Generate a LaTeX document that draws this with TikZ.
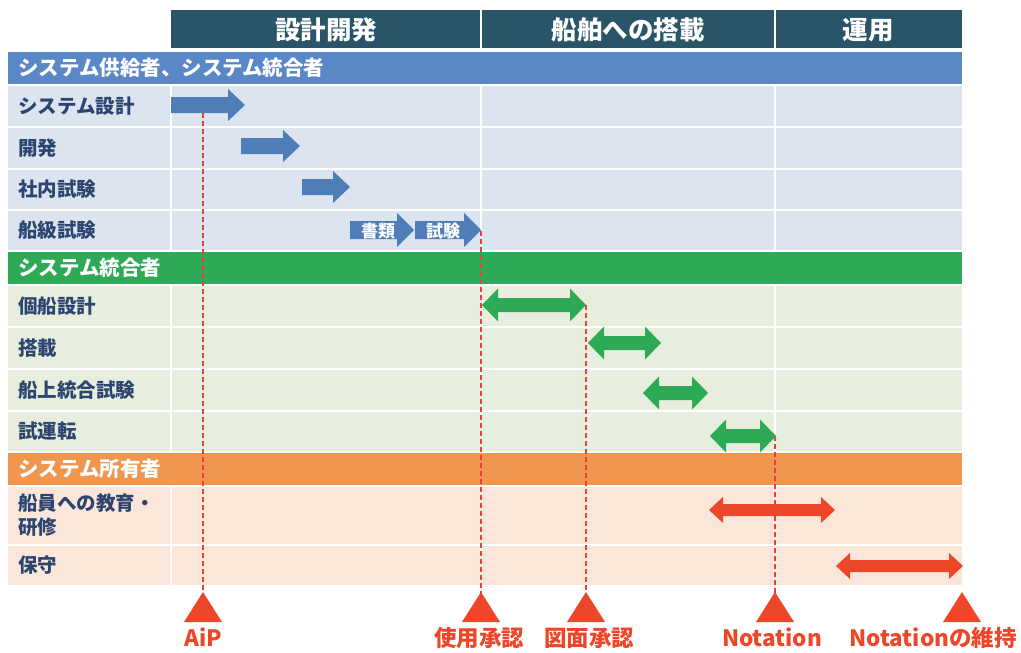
\documentclass[tikz,border=0pt]{standalone}
\usepackage{fontspec}
\setmainfont{Noto Sans CJK JP}
\definecolor{hdr}{HTML}{2A5467}
\definecolor{bandb}{HTML}{5A87C6}
\definecolor{rowb}{HTML}{DCE4EF}
\definecolor{bandg}{HTML}{2DAA55}
\definecolor{rowg}{HTML}{E8EEDD}
\definecolor{bando}{HTML}{F0964F}
\definecolor{rowo}{HTML}{FBE7DA}
\definecolor{arrb}{HTML}{4E7DB8}
\definecolor{arrg}{HTML}{2DAA55}
\definecolor{arro}{HTML}{EE4628}
\definecolor{redc}{HTML}{EE4628}
\definecolor{dashc}{HTML}{E8413A}
\definecolor{lblc}{HTML}{2B4570}
% single right arrow: name, x1, x2, yc, colour, shaft half, head half, head length
\newcommand{\rarr}[8]{%
  \fill[#5] ({#2},{#4-#6}) -- ({#3-#8},{#4-#6}) -- ({#3-#8},{#4-#7}) -- ({#3},{#4})
    -- ({#3-#8},{#4+#7}) -- ({#3-#8},{#4+#6}) -- ({#2},{#4+#6}) -- cycle;
  \coordinate (#1) at ({#3},{#4});}
% double arrow: name, x1, x2, yc, colour, shaft half, head half, head length
\newcommand{\darr}[8]{%
  \fill[#5] ({#2},{#4}) -- ({#2+#8},{#4-#7}) -- ({#2+#8},{#4-#6}) -- ({#3-#8},{#4-#6})
    -- ({#3-#8},{#4-#7}) -- ({#3},{#4}) -- ({#3-#8},{#4+#7}) -- ({#3-#8},{#4+#6})
    -- ({#2+#8},{#4+#6}) -- ({#2+#8},{#4+#7}) -- cycle;
  \coordinate (#1) at ({#3},{#4});}
\newcommand{\mtri}[2]{%
  \fill[redc] ({#2-19},622) -- ({#2},592) -- ({#2+19},622) -- cycle;
  \coordinate (#1) at ({#2},600);}
\begin{document}
\begin{tikzpicture}[x=1pt,y=-1pt,
  lbl/.style={anchor=west,font=\fontsize{19.5}{24}\selectfont\bfseries,text=lblc,inner sep=0pt},
  bandtxt/.style={anchor=west,font=\fontsize{20.5}{22}\selectfont\bfseries,text=white,inner sep=0pt},
  hdrtxt/.style={font=\fontsize{25.5}{27}\selectfont\bfseries,text=white,inner sep=0pt},
  mtxt/.style={font=\fontsize{22.5}{24}\selectfont\bfseries,text=redc,anchor=base,inner sep=0pt},
  intxt/.style={font=\fontsize{17}{19}\selectfont\bfseries,text=white,inner sep=0pt},
  dashline/.style={draw=dashc,line width=1.4pt,dash pattern=on 5pt off 3pt},
  sep/.style={draw=white,line width=2pt}]
\useasboundingbox (0,0) rectangle (1021,653);
% header
\fill[hdr] (171,10) rectangle (962,48);
\draw[sep] (481,10) -- (481,48);
\draw[sep] (775,10) -- (775,48);
\node[hdrtxt] (h1) at (326,30) {設計開発};
\node[hdrtxt] (h2) at (628,30) {船舶への搭載};
\node[hdrtxt] (h3) at (868,30) {運用};
% bands and rows
\fill[bandb] (8,52) rectangle (962,84);
\fill[rowb] (8,86) rectangle (962,250);
\fill[bandg] (8,252) rectangle (962,284);
\fill[rowg] (8,286) rectangle (962,451);
\fill[bando] (8,453) rectangle (962,485);
\fill[rowo] (8,487) rectangle (962,585);
\foreach \y in {127,169,210,327,369,411,545} {\draw[sep] (8,\y) -- (962,\y);}
\foreach \x in {171,481,775} {
  \draw[sep] (\x,86) -- (\x,250);
  \draw[sep] (\x,286) -- (\x,451);
  \draw[sep] (\x,487) -- (\x,585);
}
\node[bandtxt] (bb) at (18,68) {システム供給者、システム統合者};
\node[bandtxt] (bg) at (18,268) {システム統合者};
\node[bandtxt] (bo) at (18,469) {システム所有者};
% row labels
\node[lbl] (l1) at (18,106) {システム設計};
\node[lbl] (l2) at (18,148) {開発};
\node[lbl] (l3) at (18,189.5) {社内試験};
\node[lbl] (l4) at (18,230.5) {船級試験};
\node[lbl] (l5) at (18,306) {個船設計};
\node[lbl] (l6) at (18,348) {搭載};
\node[lbl] (l7) at (18,390) {船上統合試験};
\node[lbl] (l8) at (18,431.5) {試運転};
\node[lbl,align=left] (l9) at (18,515) {船員への教育・\\研修};
\node[lbl] (l10) at (18,565.5) {保守};
% start points of milestone lines
\coordinate (s1) at (203,105);
\coordinate (s2) at (481,231);
\coordinate (s3) at (586,305);
\coordinate (s4) at (775,436);
% triangles (milestones)
\mtri{m1}{203}
\mtri{m2}{481}
\mtri{m3}{586}
\mtri{m4}{775}
\mtri{m5}{962}
% dashed milestone lines
\draw[dashline] (s1) -- (m1);
\draw[dashline] (s2) -- (m2);
\draw[dashline] (s3) -- (m3);
\draw[dashline] (s4) -- (m4);
% blue arrows
\rarr{a1}{171}{245}{105}{arrb}{8}{16}{17}
\rarr{a2}{241}{300}{146}{arrb}{8}{16}{17}
\rarr{a3}{302}{350}{187}{arrb}{8}{16}{17}
\rarr{a4}{350}{414}{230}{arrb}{9}{17}{17}
\rarr{a5}{415}{481}{230}{arrb}{9}{17}{17}
\node[intxt] (t4) at (378,231) {書類};
\node[intxt] (t5) at (443,231) {試験};
% green double arrows
\darr{g1}{482}{586}{305}{arrg}{7}{16.5}{16}
\darr{g2}{588}{661}{343}{arrg}{7}{16.5}{16}
\darr{g3}{643}{708}{393}{arrg}{7}{16.5}{16}
\darr{g4}{710}{776}{436}{arrg}{7}{16.5}{16}
% red double arrows
\darr{r1}{709}{835}{510}{arro}{6}{13}{14}
\darr{r2}{836}{963}{566}{arro}{6}{13}{14}
% milestone labels
\node[mtxt] (n1) at (203,646) {AiP};
\node[mtxt] (n2) at (479,646) {使用承認};
\node[mtxt] (n3) at (589,646) {図面承認};
\node[mtxt] (n4) at (772,646) {Notation};
\node[mtxt] (n5) at (933,646) {Notationの維持};
\end{tikzpicture}
\end{document}
